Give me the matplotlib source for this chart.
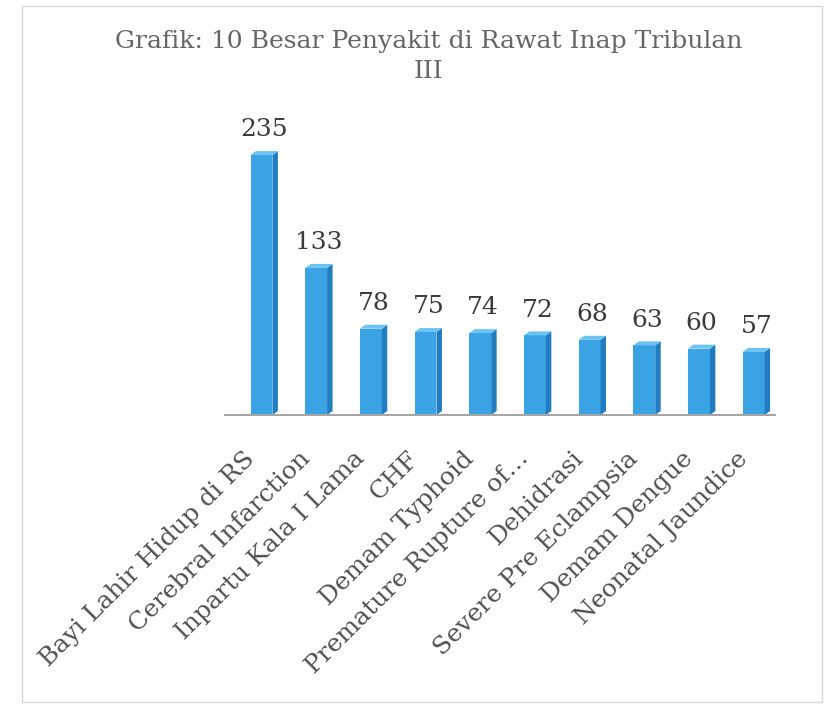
import matplotlib
matplotlib.use("Agg")
import matplotlib.pyplot as plt
import matplotlib.transforms as mtransforms
from matplotlib.patches import Polygon, Rectangle

categories = ["Bayi Lahir Hidup di RS", "Cerebral Infarction", "Inpartu Kala I Lama", "CHF",
              "Demam Typhoid", "Premature Rupture of\u2026", "Dehidrasi",
              "Severe Pre Eclampsia", "Demam Dengue", "Neonatal Jaundice"]
values = [235, 133, 78, 75, 74, 72, 68, 63, 60, 57]
title = "Grafik: 10 Besar Penyakit di Rawat Inap Tribulan\nIII"

plt.rcParams['font.family'] = ['DejaVu Serif']

front_col = '#3aa3e4'
side_col = '#217cc0'
top_col = '#6cc2f2'

fig = plt.figure(figsize=(8.29, 7.06), dpi=100)
ax = fig.add_axes([225 / 829, 1 - 415 / 706, 550 / 829, 276.5 / 706])

w = 0.4    # front face width
dx = 0.1   # depth (x)
dy = 3.6   # depth (y)

for i, v in enumerate(values):
    x0 = i - w / 2
    ax.add_patch(Rectangle((x0, 0), w, v, facecolor=front_col, edgecolor='none'))
    ax.add_patch(Polygon([(x0 + w, 0), (x0 + w + dx, dy), (x0 + w + dx, v + dy), (x0 + w, v)],
                         facecolor=side_col, edgecolor='none'))
    ax.add_patch(Polygon([(x0, v), (x0 + dx, v + dy), (x0 + w + dx, v + dy), (x0 + w, v)],
                         facecolor=top_col, edgecolor='none'))
    ax.annotate(str(v), (i + dx / 2, v + dy), xytext=(0, 7), textcoords='offset points',
                ha='center', va='bottom', fontsize=18, color='#3a3a3a')

ax.set_xlim(-0.667, 9.39)
ax.set_ylim(0, 250)
ax.set_xticks(range(len(categories)))
ax.set_xticklabels(categories, rotation=45, ha='right', rotation_mode='anchor',
                   fontsize=18, color='#505050')
ax.tick_params(axis='x', length=0, pad=23)
shift = mtransforms.ScaledTranslation(-13 / 72, 0, fig.dpi_scale_trans)
for lbl in ax.get_xticklabels():
    lbl.set_transform(lbl.get_transform() + shift)
ax.set_yticks([])
for s in ['top', 'left', 'right']:
    ax.spines[s].set_visible(False)
ax.spines['bottom'].set_color('#a6a6a6')
ax.spines['bottom'].set_linewidth(1.5)

fig.text(0.517, 1 - 30 / 706, title, ha='center', va='top', fontsize=18,
         color='#666666', linespacing=1.4)

fig.patches.append(Rectangle((22 / 829, 4 / 706), 800 / 829, 696 / 706, transform=fig.transFigure,
                             fill=False, edgecolor='#d9d9d9', linewidth=1))

fig.savefig('out.png', dpi=100)
